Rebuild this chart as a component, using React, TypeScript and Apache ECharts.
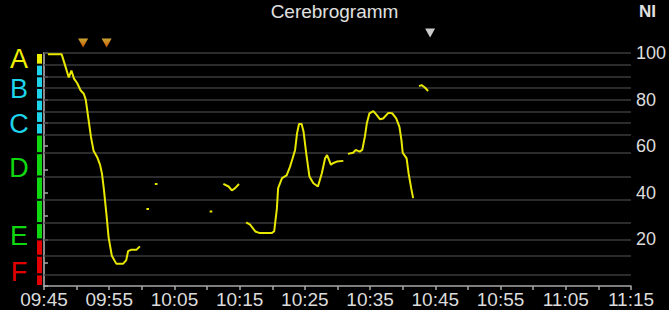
import React, { useEffect, useRef } from "react";
import * as echarts from "echarts";

// Time axis: minutes after 09:45
const axisStartHour = 9;
const axisStartMinute = 45;
const axisMinutes = 90;

// Narcotrend index (NI) trace, null separates interrupted segments
const minutesFrom0945: (number | null)[] = [
  0.6, 2.7, 3.2, 3.8, 4.2, 4.6, 5.1, 5.6, 6.1, 6.4, 6.8, 7.2, 7.6, 8.2, 8.6, 8.9, 9.2, 9.6, 9.9, 10.4, 11.1, 12.1, 12.6, 12.9, 13.4, 14.2, 14.7,
  null,
  15.7, 16.1,
  null,
  17.0, 17.4,
  null,
  25.4, 25.8,
  null,
  27.5, 28.3, 28.8, 29.3, 29.9,
  null,
  31.0, 31.6, 32.4, 33.1, 34.9, 35.3, 35.4, 35.7, 35.9, 36.5, 37.2, 37.7, 38.1, 38.5, 38.8, 39.1, 39.5, 39.8, 40.2, 40.7, 41.3, 42.0, 42.6, 43.1, 43.4, 43.7, 44.0, 44.3, 44.9, 45.9,
  null,
  46.6, 47.4, 47.8, 48.4, 48.8, 49.2, 49.5, 49.9, 50.5, 51.0, 51.5, 52.0, 52.8, 53.4, 54.0, 54.5, 54.8, 55.0, 55.6, 55.9, 56.3, 56.6,
  null,
  57.5, 57.9, 58.4, 58.9,
];
const niValues: (number | null)[] = [
  99.5, 99.5, 95, 89.5, 92.5, 89, 87, 84, 82.5, 80, 72, 64, 58, 55, 52, 48, 41, 30, 21, 13, 9.5, 9.5, 11, 15, 15.6, 15.6, 17,
  null,
  33, 33,
  null,
  43.8, 43.8,
  null,
  32, 32,
  null,
  43.8, 42.7, 41, 42, 43.8,
  null,
  27.3, 26.3, 23.4, 22.7, 22.7, 23.5, 26, 33, 42, 46.3, 47.5, 51, 54.6, 58.4, 65.5, 69.5, 69.5, 66.2, 57, 47, 44.1, 42.7, 48.4, 54.8, 56.2, 54.1, 52, 52.7, 53.4, 53.7,
  null,
  56.7, 57.2, 58.4, 57.7, 58.4, 64.1, 69.8, 74.1, 75.1, 73.4, 71.6, 71.9, 74.3, 74.1, 71.9, 68.3, 62.7, 57.2, 54.8, 48.4, 42, 37.7,
  null,
  85.8, 86.2, 85.2, 83.7,
];

// Event markers (minutes after 09:45)
const drugMarkerMinutes = [6.0, 9.6];
const commentMarkerMinutes = [59.2];

// Stage boundaries (NI) and stage letters
const stageBounds = [100, 95, 90, 85, 80, 75, 70, 65, 57, 47, 37, 27, 20, 13, 5, 0];
const stageLetters = ["A", "B", "C", "D", "E", "F"];
const stageLetterLevels = [97.4, 84.4, 69.7, 50.7, 21.6, 6.0];

const colYellow = "#eeee00";
const colCyan = "#1ed4ea";
const colGreen = "#10d810";
const colRed = "#e40000";
const letterColors = [colYellow, colCyan, colCyan, colGreen, colGreen, colRed];
const FONT = "'Liberation Sans', Arial, Helvetica, sans-serif";

function bandColor(high: number): string {
  if (high > 95) return colYellow;
  if (high > 65) return colCyan;
  if (high > 20) return colGreen;
  return colRed;
}

function fmtTime(v: number): string {
  const total = axisStartHour * 60 + axisStartMinute + v;
  const h = Math.floor(total / 60);
  const m = Math.round(total % 60);
  return String(h).padStart(2, "0") + ":" + String(m).padStart(2, "0");
}

export default function App() {
  const ref = useRef<HTMLDivElement>(null);
  useEffect(() => {
    if (!ref.current) return;
    const chart = echarts.init(ref.current, undefined, { renderer: "svg" });

    const lineData = minutesFrom0945.map((m, i) => {
      if (m == null || niValues[i] == null) {
        const prev = minutesFrom0945[i - 1] as number;
        return [prev, "-"];
      }
      return [m, niValues[i]];
    });

    const bandData = stageBounds.slice(0, -1).map((hi, i) => [0, hi, stageBounds[i + 1]]);
    const letterData = stageLetterLevels.map((lv) => [0, lv]);

    chart.setOption({
      animation: false,
      backgroundColor: "#000000",
      title: [
        {
          text: "Cerebrogramm",
          left: "center",
          top: 2,
          padding: 0,
          textStyle: { color: "#e0e0e0", fontSize: 19, fontWeight: "normal", fontFamily: FONT },
        },
        {
          text: "NI",
          right: 13,
          top: 3,
          padding: 0,
          textStyle: { color: "#e0e0e0", fontSize: 17, fontWeight: "bold", fontFamily: FONT },
        },
      ],
      grid: { left: 44, right: 37, top: 53, bottom: 24 },
      xAxis: {
        type: "value",
        min: 0,
        max: axisMinutes,
        interval: 5,
        axisLine: { show: true, lineStyle: { color: "#a8a8a8", width: 1.5 } },
        axisTick: { show: true, length: 4, lineStyle: { color: "#a8a8a8", width: 1.5 } },
        axisLabel: {
          color: "#dcdcdc",
          fontSize: 19,
          fontFamily: FONT,
          margin: 4,
          formatter: (v: number) => (Math.round(v) % 10 === 0 ? fmtTime(v) : ""),
        },
        splitLine: { show: false },
      },
      yAxis: [
        {
          type: "value",
          position: "right",
          min: 0,
          max: 100,
          interval: 10,
          axisLine: { show: true, lineStyle: { color: "#a8a8a8", width: 1.5 } },
          axisTick: { show: true, length: 4, lineStyle: { color: "#a8a8a8", width: 1.5 } },
          axisLabel: {
            color: "#dcdcdc",
            fontSize: 18,
            fontFamily: FONT,
            margin: 5,
            formatter: (v: number) => (v > 0 && v % 20 === 0 ? String(v) : ""),
          },
          splitLine: { show: false },
        },
        {
          type: "value",
          position: "left",
          min: 0,
          max: 100,
          interval: 10,
          axisLine: { show: true, onZero: false, lineStyle: { color: "#8a8a8a", width: 2 } },
          axisTick: { show: false },
          axisLabel: { show: false },
          splitLine: { show: false },
        },
      ],
      series: [
        {
          type: "line",
          yAxisIndex: 0,
          data: lineData,
          showSymbol: false,
          connectNulls: false,
          lineStyle: { color: "#e8e800", width: 2 },
          itemStyle: { color: "#e8e800" },
          z: 5,
          markLine: {
            silent: true,
            symbol: ["none", "none"],
            label: { show: false },
            lineStyle: { color: "#3a3a3a", width: 1.5, type: "solid" },
            data: stageBounds.slice(0, -1).map((v) => ({ yAxis: v })),
            z: 1,
          },
        },
        {
          type: "custom",
          yAxisIndex: 0,
          clip: false,
          silent: true,
          data: bandData,
          renderItem: (params: any, api: any) => {
            const hi = api.value(1);
            const lo = api.value(2);
            const pTop = api.coord([0, hi]);
            const pBot = api.coord([0, lo]);
            return {
              type: "rect",
              shape: { x: pTop[0] - 7, y: pTop[1] + 1, width: 5, height: pBot[1] - pTop[1] - 2 },
              style: { fill: bandColor(hi) },
            };
          },
        },
        {
          type: "custom",
          yAxisIndex: 0,
          clip: false,
          silent: true,
          data: letterData,
          renderItem: (params: any, api: any) => {
            const p = api.coord([0, api.value(1)]);
            const i = params.dataIndex;
            return {
              type: "text",
              x: p[0] - 25,
              y: p[1],
              style: {
                text: stageLetters[i],
                fill: letterColors[i],
                fontSize: 27,
                lineHeight: 22,
                fontFamily: FONT,
                align: "center",
                verticalAlign: "middle",
              },
            };
          },
        },
        {
          type: "scatter",
          yAxisIndex: 0,
          clip: false,
          silent: true,
          data: drugMarkerMinutes.map((m) => [m, 100]),
          symbol: "triangle",
          symbolRotate: 180,
          symbolSize: [10, 9],
          symbolOffset: [0, -10],
          itemStyle: {
            color: new echarts.graphic.LinearGradient(0, 0, 0, 1, [
              { offset: 0, color: "#ff6a00" },
              { offset: 1, color: "#ffd040" },
            ]),
          },
        },
        {
          type: "scatter",
          yAxisIndex: 0,
          clip: false,
          silent: true,
          data: commentMarkerMinutes.map((m) => [m, 100]),
          symbol: "triangle",
          symbolRotate: 180,
          symbolSize: [10, 9],
          symbolOffset: [0, -20],
          itemStyle: { color: "#ffffff" },
        },
      ],
    });
    return () => chart.dispose();
  }, []);

  return (
    <div
      ref={ref}
      style={{ position: "fixed", left: 0, top: 0, width: 669, height: 310, background: "#000" }}
    />
  );
}
